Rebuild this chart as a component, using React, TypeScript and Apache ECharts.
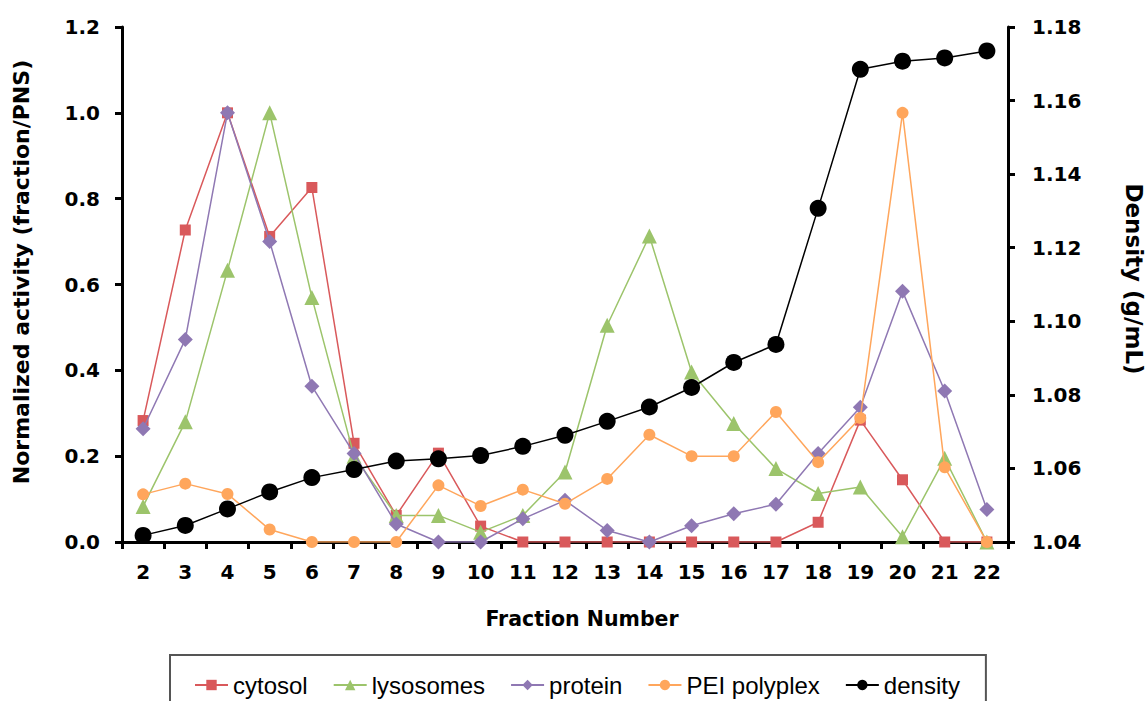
import React, { useEffect, useRef } from "react";
import * as echarts from "echarts";

const fractions = ["2","3","4","5","6","7","8","9","10","11","12","13","14","15","16","17","18","19","20","21","22"];
const cytosol = [0.283, 0.727, 1.0, 0.712, 0.826, 0.23, 0.062, 0.207, 0.037, 0, 0, 0, 0, 0, 0, 0, 0.046, 0.284, 0.145, 0, 0];
const lysosomes = [0.083, 0.28, 0.633, 1.0, 0.57, 0.2, 0.062, 0.062, 0.023, 0.062, 0.163, 0.505, 0.713, 0.396, 0.276, 0.171, 0.113, 0.128, 0.012, 0.195, 0];
const protein = [0.264, 0.472, 1.0, 0.7, 0.363, 0.206, 0.042, 0, 0, 0.054, 0.097, 0.027, 0, 0.038, 0.066, 0.088, 0.206, 0.314, 0.584, 0.352, 0.076];
const peiPolyplex = [0.111, 0.136, 0.112, 0.029, 0, 0, 0, 0.132, 0.084, 0.122, 0.089, 0.147, 0.25, 0.2, 0.2, 0.303, 0.186, 0.289, 1.0, 0.174, 0];
const density = [1.0418, 1.0445, 1.049, 1.0536, 1.0575, 1.0597, 1.062, 1.0626, 1.0635, 1.066, 1.069, 1.0728, 1.0767, 1.082, 1.0888, 1.0937, 1.1307, 1.1685, 1.1707, 1.1716, 1.1735];

const AXIS_FONT = "DejaVu Sans";

export default function App() {
  const ref = useRef<HTMLDivElement>(null);
  useEffect(() => {
    if (!ref.current) return;
    const chart = echarts.init(ref.current, undefined, { renderer: "svg" });
    const lineSeries = (name: string, data: number[], color: string, symbol: string, size: number, yAxisIndex = 0, z = 2) => ({
      name,
      type: "line",
      data,
      yAxisIndex,
      symbol,
      symbolSize: size,
      z,
      lineStyle: { color, width: 1.5 },
      itemStyle: { color },
      emphasis: { disabled: true },
    });
    chart.setOption({
      animation: false,
      backgroundColor: "#ffffff",
      grid: { left: 122, right: 140, top: 27, bottom: 159, containLabel: false, outerBoundsMode: "none" },
      legend: {
        left: 170,
        top: 655,
        orient: "horizontal",
        itemWidth: 33,
        itemHeight: 13,
        itemGap: 25,
        padding: [18, 26, 30, 24],
        borderColor: "#555555",
        borderWidth: 2,
        textStyle: { fontFamily: "Liberation Sans", fontSize: 24, color: "#000" },
        data: ["cytosol", "lysosomes", "protein", "PEI polyplex", "density"],
      },
      xAxis: {
        type: "category",
        data: fractions,
        boundaryGap: true,
        name: "Fraction Number",
        nameLocation: "middle",
        nameGap: 66,
        nameTextStyle: { fontFamily: AXIS_FONT, fontWeight: "bold", fontSize: 20.5, color: "#000", padding: [0, 0, 0, 34] },
        axisLine: { lineStyle: { color: "#000", width: 3 } },
        axisTick: { show: true, inside: false, length: 7, lineStyle: { color: "#000", width: 3 } },
        axisLabel: { fontFamily: AXIS_FONT, fontWeight: "bold", fontSize: 20, color: "#000", margin: 20, interval: 0 },
        splitLine: { show: false },
      },
      yAxis: [
        {
          type: "value",
          min: 0,
          max: 1.2,
          interval: 0.2,
          position: "left",
          name: "Normalized activity (fraction/PNS)",
          nameLocation: "middle",
          nameGap: 90,
          nameTextStyle: { fontFamily: AXIS_FONT, fontWeight: "bold", fontSize: 22, color: "#000", padding: [0, 0, 0, 25] },
          axisLine: { show: true, lineStyle: { color: "#000", width: 3 } },
          axisTick: { show: true, inside: false, length: 7, lineStyle: { color: "#000", width: 3 } },
          axisLabel: { fontFamily: AXIS_FONT, fontWeight: "bold", fontSize: 20, color: "#000", margin: 22, formatter: (v: number) => v.toFixed(1) },
          splitLine: { show: false },
        },
        {
          type: "value",
          min: 1.04,
          max: 1.18,
          interval: 0.02,
          position: "right",
          name: "Density (g/mL)",
          nameLocation: "middle",
          nameGap: 114,
          nameRotate: -90,
          nameTextStyle: { fontFamily: AXIS_FONT, fontWeight: "bold", fontSize: 23, color: "#000", padding: [0, 11, 0, 0] },
          axisLine: { show: true, lineStyle: { color: "#000", width: 3 } },
          axisTick: { show: true, inside: false, length: 7, lineStyle: { color: "#000", width: 3 } },
          axisLabel: { fontFamily: AXIS_FONT, fontWeight: "bold", fontSize: 20, color: "#000", margin: 24, formatter: (v: number) => v.toFixed(2) },
          splitLine: { show: false },
        },
      ],
      series: [
        lineSeries("cytosol", cytosol, "#D9595B", "rect", 11, 0, 2),
        lineSeries("lysosomes", lysosomes, "#9CC46B", "triangle", 15, 0, 3),
        lineSeries("protein", protein, "#8F78B3", "diamond", 15, 0, 4),
        lineSeries("PEI polyplex", peiPolyplex, "#FFA65C", "circle", 12, 0, 5),
        lineSeries("density", density, "#000000", "circle", 17, 1, 6),
      ],
    });
    return () => chart.dispose();
  }, []);
  return <div ref={ref} style={{ position: "fixed", left: 0, top: 0, width: 1148, height: 701 }} />;
}
